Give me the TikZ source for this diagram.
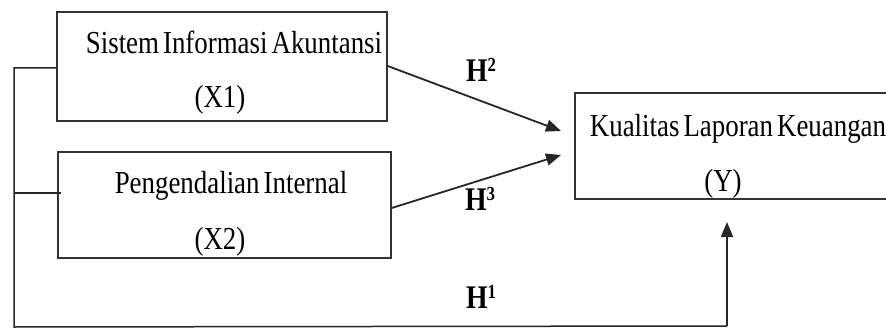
\documentclass[tikz,border=0pt]{standalone}
\usepackage{fontspec}
\usetikzlibrary{arrows.meta,calc}
\newfontfamily\tnr[FakeStretch=0.84,WordSpace=0.6]{Liberation Serif}
\newcommand{\hypsup}[1]{\raisebox{10pt}{\fontsize{20}{20}\selectfont #1}}
\begin{document}
\begin{tikzpicture}[x=1pt,y=-1pt,
  every node/.style={font=\tnr\fontsize{32}{38}\selectfont, inner sep=0pt},
  varbox/.style={draw=black!80, line width=1.4pt, rectangle},
  txt/.style={anchor=base},
  hyp/.style={font=\tnr\bfseries\fontsize{33}{38}\selectfont},
  link/.style={line width=1.8pt, black!85},
  arrowlink/.style={link, -{Triangle[length=15pt,width=12pt]}}
]
\useasboundingbox (0,0) rectangle (886,334);
\clip (0,0) rectangle (886,334);

% independent variables
\node[varbox, minimum width=330pt, minimum height=109pt] (x1) at (222,66.5) {};
\node[txt] (x1name) at (234,54) {Sistem Informasi Akuntansi};
\node[txt] (x1code) at (220,108) {(X1)};

\node[varbox, minimum width=333pt, minimum height=106pt] (x2) at (224.5,205) {};
\node[txt] (x2name) at (231,193) {Pengendalian Internal};
\node[txt] (x2code) at (220,249) {(X2)};

% dependent variable (box runs past the right edge)
\node[varbox, minimum width=340pt, minimum height=106pt] (y) at (745,146) {};
\node[txt] (yname) at (738,137) {Kualitas Laporan Keuangan};
\node[txt] (ycode) at (723,191) {(Y)};

% arrow tips short of the target box
\coordinate (tip2) at (561,131);
\coordinate (tip3) at (561,155);
\coordinate (tip1) at (727,222);

% combined path X1, X2 -> Y
\coordinate (bx1) at (14,68);
\coordinate (bx2) at (14,193);
\coordinate (corner) at (14,327);
\coordinate (turn) at (727,326);

% hypothesis arrows
\draw[arrowlink] ([yshift=0.5pt]x1.east) -- (tip2);
\draw[arrowlink] ([yshift=-3pt]x2.east) -- (tip3);

\draw[link, line width=1.5pt] (x1.west |- bx1) -- (bx1) -- (corner) -- (turn);
\draw[arrowlink] (turn) -- (tip1);
\draw[link, line width=1.5pt] ([xshift=4pt]x2.west |- bx2) -- (bx2);

% hypothesis labels
\node[hyp, txt] (h2) at (481,82) {H\hypsup{2}};
\node[hyp, txt] (h3) at (480,210) {H\hypsup{3}};
\node[hyp, txt] (h1) at (481,308) {H\hypsup{1}};
\end{tikzpicture}
\end{document}
